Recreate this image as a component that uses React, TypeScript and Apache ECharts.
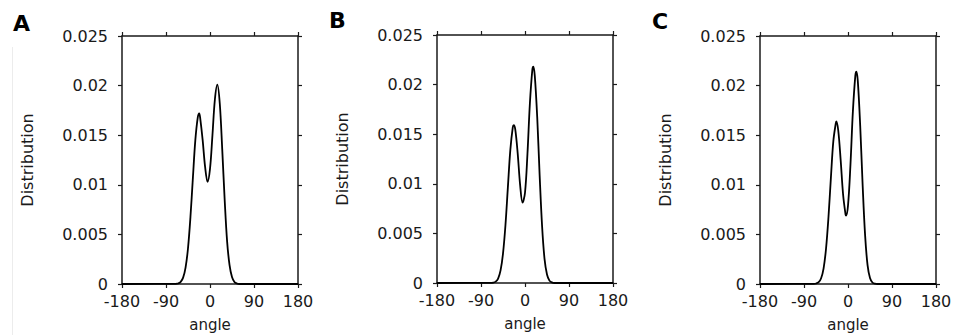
import React, { useEffect, useRef } from "react";
import * as echarts from "echarts";

const panelLabels = ["A", "B", "C"];
const xTicks = [-180, -90, 0, 90, 180];
const yTicks = [0, 0.005, 0.01, 0.015, 0.02, 0.025];

const anglesA = [-180, -70, -65, -60, -55, -50, -45, -40, -35, -30, -25, -22, -20, -15, -10, -5, 0, 5, 10, 15, 20, 25, 30, 35, 40, 45, 50, 55, 60, 180];
const distA = [0, 0.00002, 0.00006, 0.00021, 0.00064, 0.00165, 0.0036, 0.00675, 0.0107, 0.0145, 0.0168, 0.0172, 0.0167, 0.0145, 0.0118, 0.0103, 0.0116, 0.015, 0.0186, 0.0201, 0.0182, 0.0136, 0.0085, 0.0043, 0.0019, 0.0007, 0.0002, 0.00005, 0, 0];

const anglesB = [-180, -70, -65, -60, -55, -50, -45, -40, -35, -30, -25, -23, -20, -15, -10, -5, 0, 5, 10, 15, 17, 20, 25, 30, 35, 40, 45, 50, 55, 60, 180];
const distB = [0, 0.00001, 0.00004, 0.00014, 0.00045, 0.00127, 0.00296, 0.00582, 0.00966, 0.01342, 0.0157, 0.0159, 0.0155, 0.0131, 0.0099, 0.0081, 0.0091, 0.013, 0.0181, 0.0215, 0.0218, 0.0209, 0.0167, 0.0108, 0.0057, 0.0024, 0.00085, 0.00024, 0.00006, 0, 0];

const anglesC = [-180, -70, -65, -60, -55, -50, -45, -40, -35, -30, -25, -24, -20, -15, -10, -5, -4, 0, 5, 10, 15, 17, 20, 25, 30, 35, 40, 45, 50, 55, 60, 180];
const distC = [0, 0.00001, 0.00005, 0.00018, 0.00058, 0.00156, 0.00353, 0.0067, 0.0107, 0.0144, 0.0162, 0.0164, 0.0155, 0.0125, 0.009, 0.007, 0.0069, 0.0079, 0.012, 0.0174, 0.021, 0.0214, 0.0205, 0.0159, 0.0099, 0.0049, 0.0019, 0.0006, 0.00015, 0.00003, 0, 0];

const panels = [
  { angles: anglesA, dist: distA },
  { angles: anglesB, dist: distB },
  { angles: anglesC, dist: distC },
];

const gridPos = [
  { left: 122, top: 36 },
  { left: 437, top: 35 },
  { left: 760, top: 36 },
];
const labelPos = [
  { x: 13, y: 12 },
  { x: 329, y: 9 },
  { x: 652, y: 10 },
];

const FONT = "DejaVu Sans";
const AX = "#1a1a1a";

export default function App() {
  const ref = useRef<HTMLDivElement>(null);
  useEffect(() => {
    if (!ref.current) return;
    const chart = echarts.init(ref.current, null, { renderer: "svg" });
    const grids: any[] = [];
    const xAxes: any[] = [];
    const yAxes: any[] = [];
    const series: any[] = [];
    const axisLine = { show: true, onZero: false, lineStyle: { color: AX, width: 1.5 } };
    const axisTick = { show: true, inside: false, length: 4, lineStyle: { color: AX, width: 1.2 } };
    panels.forEach((p, i) => {
      grids.push({
        left: gridPos[i].left,
        top: gridPos[i].top,
        width: 176,
        height: 248,
        containLabel: false,
        outerBoundsMode: "none",
      });
      const xBase = {
        type: "value",
        gridIndex: i,
        min: xTicks[0],
        max: xTicks[xTicks.length - 1],
        interval: 90,
        splitLine: { show: false },
        axisLine,
        axisTick,
      };
      xAxes.push({
        ...xBase,
        position: "bottom",
        name: "angle",
        nameLocation: "middle",
        nameGap: 33,
        nameTextStyle: { fontFamily: FONT, fontSize: 15, color: AX },
        axisLabel: { fontFamily: FONT, fontSize: 16, color: AX, margin: 9 },
      });
      xAxes.push({ ...xBase, position: "top", axisLabel: { show: false } });
      const yBase = {
        type: "value",
        gridIndex: i,
        min: yTicks[0],
        max: yTicks[yTicks.length - 1],
        interval: 0.005,
        splitLine: { show: false },
        axisLine,
        axisTick,
      };
      yAxes.push({
        ...yBase,
        position: "left",
        name: "Distribution",
        nameLocation: "middle",
        nameGap: 87,
        nameTextStyle: { fontFamily: FONT, fontSize: 16, color: AX },
        axisLabel: { fontFamily: FONT, fontSize: 16, color: AX, margin: 14 },
      });
      yAxes.push({ ...yBase, position: "right", axisLabel: { show: false } });
      series.push({
        type: "line",
        xAxisIndex: i * 2,
        yAxisIndex: i * 2,
        data: p.angles.map((a, k) => [a, p.dist[k]]),
        showSymbol: false,
        smooth: 0.35,
        lineStyle: { color: "#000", width: 1.8 },
      });
    });
    const graphic: any[] = panelLabels.map((t, i) => ({
      type: "text",
      left: labelPos[i].x,
      top: labelPos[i].y,
      style: { text: t, fontFamily: FONT, fontWeight: "bold", fontSize: 22, fill: "#000" },
    }));
    graphic.push({
      type: "line",
      shape: { x1: 12.5, y1: 47, x2: 12.5, y2: 335 },
      style: { stroke: "#ececec", lineWidth: 1 },
    });
    chart.setOption({
      animation: false,
      backgroundColor: "#fff",
      grid: grids,
      xAxis: xAxes,
      yAxis: yAxes,
      series,
      graphic,
    });
    return () => chart.dispose();
  }, []);
  return <div ref={ref} style={{ position: "absolute", left: 0, top: 0, width: 954, height: 335 }} />;
}
